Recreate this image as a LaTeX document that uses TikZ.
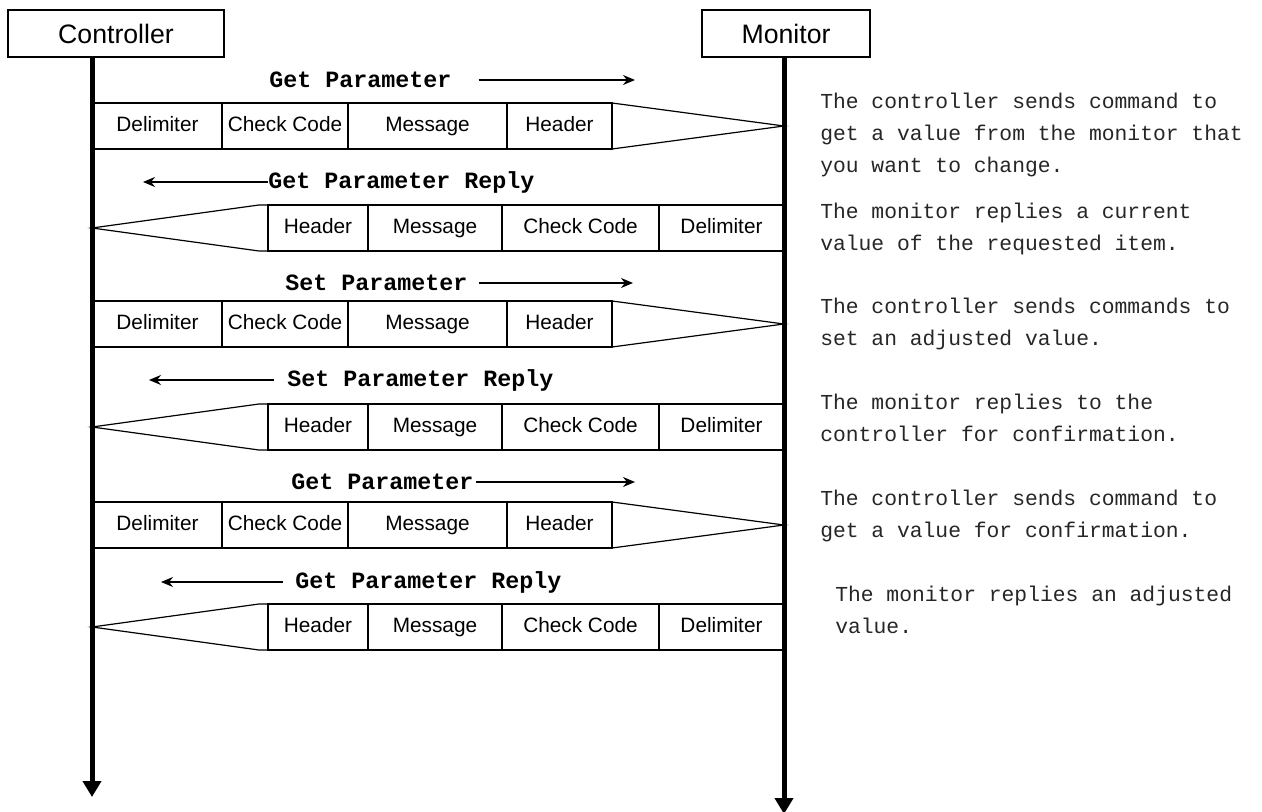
\documentclass[tikz,border=0pt]{standalone}
\usepackage{fontspec}
\usetikzlibrary{arrows.meta,positioning}
\newfontfamily\cellfont{Liberation Sans}
\newfontfamily\codefont{Liberation Mono}
\newcommand{\pxu}{0.75pt}

\begin{document}
\begin{tikzpicture}[x=0.75pt, y=-0.75pt,
  head/.style={draw, line width=1pt, minimum height=47*\pxu, inner sep=0,
               font=\cellfont\fontsize{20}{24}\selectfont},
  cell/.style={draw, line width=0.9pt, minimum height=46*\pxu, inner sep=0, outer sep=0,
               text height=11.5pt, text depth=3.5pt,
               font=\cellfont\fontsize{15.6}{18}\selectfont},
  pk/.style={line width=0.9pt},
  lab/.style={inner sep=0, font=\codefont\bfseries\fontsize{17.5}{20}\selectfont},
  ar/.style={-{Stealth[length=9pt, width=7.5pt]}, line width=1pt},
  life/.style={line width=3.75pt, -{Triangle[length=12pt, width=13.5pt]}},
  note/.style={inner sep=0, anchor=north west, align=left, text=black!85,
               font=\codefont\fontsize{16}{24}\selectfont}]
\useasboundingbox (0,0) rectangle (1262,812);

\node[head, minimum width=216*\pxu] (ctrl) at (116,33.5) {Controller};
\node[head, minimum width=168*\pxu] (mon) at (786,33.5) {Monitor};

% Get Parameter
\node[lab, anchor=west] (lab1) at (269,80) {Get Parameter};
\coordinate (a1) at (635,80);
\draw[ar] (lab1.east) ++(27,0) -- (a1);
\node[cell, anchor=north west, minimum width=129*\pxu] (dl1) at (93,103) {Delimiter};
\node[cell, right=0pt of dl1, minimum width=126*\pxu] (cc1) {Check Code};
\node[cell, right=0pt of cc1, minimum width=159*\pxu] (ms1) {Message};
\node[cell, right=0pt of ms1, minimum width=105*\pxu] (hd1) {Header};
\coordinate (tip1) at (784,126);
\draw[pk] (hd1.north east) -- (tip1) -- (hd1.south east);

% Get Parameter Reply
\node[lab, anchor=west] (lab2) at (268,182) {Get Parameter Reply};
\coordinate (a2) at (143,182);
\draw[ar] (lab2.west) -- (a2);
\node[cell, anchor=north west, minimum width=100*\pxu] (hd2) at (268,205) {Header};
\node[cell, right=0pt of hd2, minimum width=134*\pxu] (ms2) {Message};
\node[cell, right=0pt of ms2, minimum width=157*\pxu] (cc2) {Check Code};
\node[cell, right=0pt of cc2, minimum width=125*\pxu] (dl2) {Delimiter};
\coordinate (tip2) at (92,228);
\draw[pk] (hd2.north west) -- ++(-9,0) -- (tip2) -- ++(167,23) -- (hd2.south west);

% Set Parameter
\node[lab, anchor=west] (lab3) at (285,283) {Set Parameter};
\coordinate (a3) at (633,283);
\draw[ar] (lab3.east) ++(11,0) -- (a3);
\node[cell, anchor=north west, minimum width=129*\pxu] (dl3) at (93,301) {Delimiter};
\node[cell, right=0pt of dl3, minimum width=126*\pxu] (cc3) {Check Code};
\node[cell, right=0pt of cc3, minimum width=159*\pxu] (ms3) {Message};
\node[cell, right=0pt of ms3, minimum width=105*\pxu] (hd3) {Header};
\coordinate (tip3) at (784,324);
\draw[pk] (hd3.north east) -- (tip3) -- (hd3.south east);

% Set Parameter Reply
\node[lab, anchor=west] (lab4) at (287,380) {Set Parameter Reply};
\coordinate (a4) at (149,380);
\draw[ar] (lab4.west) ++(-13,0) -- (a4);
\node[cell, anchor=north west, minimum width=100*\pxu] (hd4) at (268,404) {Header};
\node[cell, right=0pt of hd4, minimum width=134*\pxu] (ms4) {Message};
\node[cell, right=0pt of ms4, minimum width=157*\pxu] (cc4) {Check Code};
\node[cell, right=0pt of cc4, minimum width=125*\pxu] (dl4) {Delimiter};
\coordinate (tip4) at (92,427);
\draw[pk] (hd4.north west) -- ++(-9,0) -- (tip4) -- ++(167,23) -- (hd4.south west);

% Get Parameter (confirmation)
\node[lab, anchor=west] (lab5) at (291,482) {Get Parameter};
\coordinate (a5) at (635,482);
\draw[ar] (lab5.east) ++(2,0) -- (a5);
\node[cell, anchor=north west, minimum width=129*\pxu] (dl5) at (93,502) {Delimiter};
\node[cell, right=0pt of dl5, minimum width=126*\pxu] (cc5) {Check Code};
\node[cell, right=0pt of cc5, minimum width=159*\pxu] (ms5) {Message};
\node[cell, right=0pt of ms5, minimum width=105*\pxu] (hd5) {Header};
\coordinate (tip5) at (784,525);
\draw[pk] (hd5.north east) -- (tip5) -- (hd5.south east);

% Get Parameter Reply (confirmation)
\node[lab, anchor=west] (lab6) at (295,582) {Get Parameter Reply};
\coordinate (a6) at (161,582);
\draw[ar] (lab6.west) ++(-12,0) -- (a6);
\node[cell, anchor=north west, minimum width=100*\pxu] (hd6) at (268,604) {Header};
\node[cell, right=0pt of hd6, minimum width=134*\pxu] (ms6) {Message};
\node[cell, right=0pt of ms6, minimum width=157*\pxu] (cc6) {Check Code};
\node[cell, right=0pt of cc6, minimum width=125*\pxu] (dl6) {Delimiter};
\coordinate (tip6) at (92,627);
\draw[pk] (hd6.north west) -- ++(-9,0) -- (tip6) -- ++(167,23) -- (hd6.south west);

% lifelines
\coordinate (cend) at (92,797);
\coordinate (mend) at (784,814);
\draw[life] (ctrl.south -| cend) -- (cend);
\draw[life] (mon.south -| mend) -- (mend);

% notes
\node[note] (n1) at (820,93) {The controller sends command to\\get a value from the monitor that\\you want to change.};
\node[note] (n2) at (820,203) {The monitor replies a current\\value of the requested item.};
\node[note] (n3) at (820,298) {The controller sends commands to\\set an adjusted value.};
\node[note] (n4) at (820,394) {The monitor replies to the\\controller for confirmation.};
\node[note] (n5) at (820,490) {The controller sends command to\\get a value for confirmation.};
\node[note] (n6) at (835,586) {The monitor replies an adjusted\\value.};
\end{tikzpicture}
\end{document}
